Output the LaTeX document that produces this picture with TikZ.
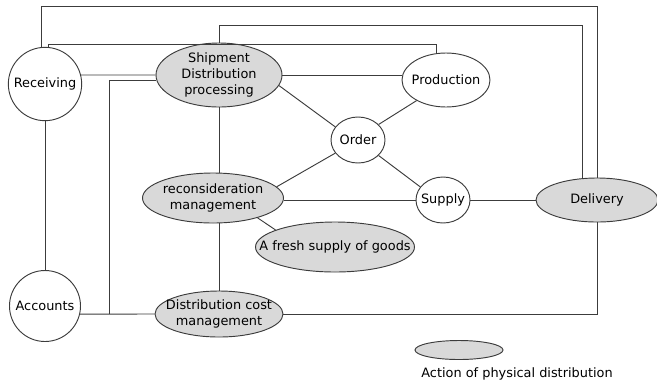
\documentclass[tikz,border=0pt]{standalone}
\usepackage{fontspec}
\setmainfont{DejaVu Sans}
\usetikzlibrary{shapes.geometric}
\definecolor{linec}{HTML}{3C3C3C}
\definecolor{actfill}{HTML}{D9D9D9}
% zero-width line, so each ellipse keeps the size it is given
\newcommand{\zw}[1]{\makebox[0pt][c]{#1}}

\begin{document}
\begin{tikzpicture}[
  x=0.03cm, y=-0.03cm,
  part/.style={ellipse, draw=linec, line width=0.8pt, inner sep=0pt, align=center},
  act/.style={part, fill=actfill},
  dept/.style={part, fill=white},
  link/.style={draw=linec, line width=0.8pt},
  font=\fontsize{11}{13.6}\selectfont
]
\useasboundingbox (0,0) rectangle (657,383);

% departments (white) and distribution actions (grey)
\node[dept, circle, minimum size=2.2cm] (rec) at (45,84) {\zw{Receiving}};
\node[dept, circle, minimum size=2.13cm] (acc) at (45,306) {\zw{Accounts}};
\node[act, minimum width=3.78cm, minimum height=1.92cm] (ship) at (219,75)
  {\zw{Shipment}\\\zw{Distribution}\\\zw{processing}};
\node[dept, minimum width=2.64cm, minimum height=1.62cm] (prod) at (446,80) {\zw{Production}};
\node[dept, minimum width=1.62cm, minimum height=1.38cm] (order) at (358,140) {\zw{Order}};
\node[dept, minimum width=1.62cm, minimum height=1.38cm] (supply) at (443,200) {\zw{Supply}};
\node[act, minimum width=3.66cm, minimum height=1.32cm] (deliv) at (597,200) {\zw{Delivery}};
\node[act, minimum width=4.23cm, minimum height=1.5cm] (recon) at (213,198)
  {\zw{reconsideration}\\\zw{management}};
\node[act, minimum width=4.77cm, minimum height=1.5cm] (fresh) at (335,247)
  {\zw{A fresh supply of goods}};
\node[act, minimum width=3.84cm, minimum height=1.38cm] (cost) at (219,314)
  {\zw{Distribution cost}\\\zw{management}};

% key
\node[act, minimum width=2.64cm, minimum height=0.57cm] (key) at (459,350) {};
\node (keytext) at (517,374) {Action of physical distribution};

% outer routes over the top
\coordinate (t1) at (597,6);
\coordinate (t2) at (582,25);
\coordinate (t3) at (436,44);
\draw[link] (rec.95) |- (t1) -- (deliv.north);
\draw[link] (ship.north) |- (t2) -- (t2 |- deliv.125);
\draw[link] (rec.85) |- (t3) -- (t3 |- prod.north);

\draw[link] (rec.14) -- (ship.west);
\draw[link] (ship.east) -- (ship.east -| prod.west);
\draw[link] (rec.south) -- (acc.north);
\draw[link] (acc.-13) -- (cost.west);
\draw[link] (cost.east) -| (deliv.south);
\coordinate (j1) at (109,0 |- cost.west);
\draw[link] (ship.185) -| (j1);
\draw[link] (ship.south) -- (ship.south |- recon.north);
\draw[link] (cost.north) -- (cost.north |- recon.south);

% around the order
\draw[link] (ship.-10) -- (order.150);
\draw[link] (order.37) -- (prod.215);
\draw[link] (recon.10) -- (order.210);
\draw[link] (order.-37) -- (supply.150);
\draw[link] (supply.west) -- (supply.west -| recon.east);
\draw[link] (supply) -- (deliv);
\draw[link] (recon.-24) -- (fresh.164);
\end{tikzpicture}
\end{document}
